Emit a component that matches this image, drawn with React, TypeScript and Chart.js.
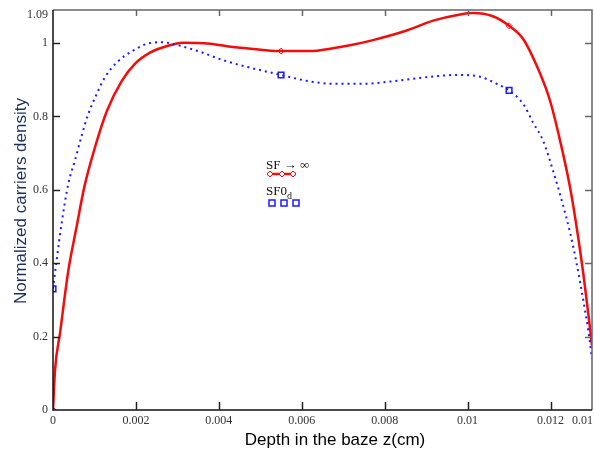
import React, { useEffect, useRef } from "react";
import { Chart, registerables } from "chart.js";

Chart.register(...registerables);

// ---- data ----
const redZ = [
  0, 0.00005, 0.00017, 0.00037, 0.00057, 0.00076, 0.00101, 0.0013, 0.00166, 0.00198,
  0.00234, 0.00275, 0.00314, 0.00379, 0.00434, 0.005, 0.0055, 0.0062, 0.00675, 0.00716,
  0.00772, 0.00853, 0.00917, 0.00982, 0.01013, 0.01061, 0.011, 0.01134, 0.01175, 0.01199,
  0.01223, 0.01247, 0.01263, 0.01279, 0.01291, 0.013,
];
const redValues = [
  0, 0.11, 0.21, 0.38, 0.5, 0.61, 0.715, 0.815, 0.897, 0.944,
  0.974, 0.992, 1.001, 0.998, 0.989, 0.982, 0.978, 0.978, 0.986, 0.994,
  1.008, 1.034, 1.061, 1.078, 1.082, 1.073, 1.047, 1.011, 0.916, 0.842,
  0.734, 0.607, 0.498, 0.372, 0.263, 0.175,
];
const blueZ = [
  0, 0.00009, 0.00021, 0.00037, 0.00053, 0.00069, 0.00085, 0.00105, 0.00125, 0.00154,
  0.00194, 0.00234, 0.00265, 0.00298, 0.00355, 0.00411, 0.00475, 0.0055, 0.00612, 0.00675,
  0.0075, 0.00813, 0.00893, 0.00974, 0.0103, 0.0107, 0.011, 0.01134, 0.01158, 0.01182,
  0.01206, 0.01227, 0.01247, 0.01263, 0.01279, 0.01291, 0.013,
];
const blueValues = [
  0.33, 0.41, 0.51, 0.617, 0.68, 0.747, 0.806, 0.86, 0.906, 0.947,
  0.98, 1.0, 1.002, 0.995, 0.976, 0.953, 0.933, 0.913, 0.897, 0.889,
  0.889, 0.895, 0.906, 0.913, 0.908, 0.889, 0.871, 0.834, 0.783, 0.734,
  0.652, 0.571, 0.484, 0.399, 0.299, 0.217, 0.14,
];
const markerZ = [0, 0.0055, 0.011];
const redMarkerValues = [0, 0.978, 1.047];
const blueMarkerValues = [0.33, 0.913, 0.871];

const xTicks = [0, 0.002, 0.004, 0.006, 0.008, 0.01, 0.012, 0.013];
const xTickLabels = ["0", "0.002", "0.004", "0.006", "0.008", "0.01", "0.012", "0.01"];
const yTicks = [0, 0.2, 0.4, 0.6, 0.8, 1, 1.09];
const yTickLabels = ["0", "0.2", "0.4", "0.6", "0.8", "1", "1.09"];

const xTitle = "Depth in the baze z(cm)";
const yTitle = "Normalized carriers density";
const legend1 = "SF \u2192 \u221E";
const legend2Main = "SF0";
const legend2Sub = "d";

const RED = "#f20d0d";
const BLUE = "#1a1aff";

const toPts = (xs: number[], ys: number[]) => xs.map((x, i) => ({ x, y: ys[i] }));

const decorPlugin = {
  id: "decor",
  afterDraw(chart: any) {
    const ctx = chart.ctx as CanvasRenderingContext2D;
    const { left, right, top, bottom } = chart.chartArea;
    const xs = chart.scales.x;
    const ys = chart.scales.y;
    ctx.save();

    // frame
    ctx.lineWidth = 1.5;
    ctx.strokeStyle = "#666";
    ctx.beginPath();
    ctx.moveTo(left, top);
    ctx.lineTo(right, top);
    ctx.lineTo(right, bottom);
    ctx.stroke();
    ctx.strokeStyle = "#111";
    ctx.beginPath();
    ctx.moveTo(left, top);
    ctx.lineTo(left, bottom);
    ctx.lineTo(right, bottom);
    ctx.stroke();

    // ticks
    ctx.lineWidth = 1.5;
    xTicks.forEach((v) => {
      const px = Math.round(xs.getPixelForValue(v)) + 0.5;
      if (px <= left + 1 || px >= right - 1) return;
      ctx.strokeStyle = "#222";
      ctx.beginPath();
      ctx.moveTo(px, bottom);
      ctx.lineTo(px, bottom - 8);
      ctx.stroke();
      ctx.strokeStyle = "#666";
      ctx.beginPath();
      ctx.moveTo(px, top);
      ctx.lineTo(px, top + 6);
      ctx.stroke();
    });
    yTicks.forEach((v) => {
      const py = Math.round(ys.getPixelForValue(v)) + 0.5;
      if (py <= top + 1 || py >= bottom - 1) return;
      ctx.strokeStyle = "#222";
      ctx.beginPath();
      ctx.moveTo(left, py);
      ctx.lineTo(left + 7, py);
      ctx.stroke();
      ctx.strokeStyle = "#666";
      ctx.beginPath();
      ctx.moveTo(right, py);
      ctx.lineTo(right - 7, py);
      ctx.stroke();
    });

    // tick labels
    ctx.fillStyle = "#333";
    ctx.font = "12px 'Liberation Serif', 'Times New Roman', serif";
    ctx.textBaseline = "middle";
    ctx.textAlign = "right";
    yTicks.forEach((v, i) => {
      let py = ys.getPixelForValue(v);
      if (py < 15) py = 15;
      ctx.fillText(yTickLabels[i], left - 5, py);
    });
    ctx.textAlign = "center";
    xTicks.forEach((v, i) => {
      let px = xs.getPixelForValue(v);
      const w = ctx.measureText(xTickLabels[i]).width;
      if (px + w / 2 > 593) px = 593 - w / 2;
      ctx.fillText(xTickLabels[i], px, bottom + 11);
    });

    // axis titles
    ctx.font = "17px 'Liberation Sans', Arial, sans-serif";
    ctx.fillStyle = "#000";
    ctx.textAlign = "center";
    ctx.textBaseline = "middle";
    ctx.fillText(xTitle, 335, 440);
    ctx.save();
    ctx.translate(21, 201);
    ctx.rotate(-Math.PI / 2);
    ctx.fillStyle = "#1c2e5c";
    ctx.fillText(yTitle, 0, 0);
    ctx.restore();

    // legend
    ctx.font = "13px 'Liberation Serif', 'Times New Roman', serif";
    ctx.fillStyle = "#111";
    ctx.textAlign = "left";
    ctx.textBaseline = "alphabetic";
    ctx.fillText(legend1, 266, 169);
    ctx.fillText(legend2Main, 266, 195);
    const mw = ctx.measureText(legend2Main).width;
    ctx.font = "10px 'Liberation Serif', 'Times New Roman', serif";
    ctx.fillText(legend2Sub, 266 + mw, 199);

    ctx.strokeStyle = RED;
    ctx.lineWidth = 2.5;
    ctx.beginPath();
    ctx.moveTo(267, 174);
    ctx.lineTo(296, 174);
    ctx.stroke();
    ctx.lineWidth = 1;
    [270, 282, 293].forEach((mx) => {
      ctx.beginPath();
      ctx.moveTo(mx, 171);
      ctx.lineTo(mx + 3, 174);
      ctx.lineTo(mx, 177);
      ctx.lineTo(mx - 3, 174);
      ctx.closePath();
      ctx.fillStyle = "#fff";
      ctx.fill();
      ctx.stroke();
    });
    ctx.strokeStyle = BLUE;
    ctx.lineWidth = 1.5;
    [272, 284, 296].forEach((mx) => {
      ctx.strokeRect(mx - 3, 200, 6, 6);
    });

    ctx.restore();
  },
};

export default function App() {
  const ref = useRef<HTMLCanvasElement | null>(null);

  useEffect(() => {
    document.body.style.margin = "0";
    const canvas = ref.current;
    if (!canvas) return;
    const chart = new Chart(canvas, {
      type: "scatter",
      data: {
        datasets: [
          {
            label: "SF0d",
            data: toPts(blueZ, blueValues),
            showLine: true,
            borderColor: BLUE,
            borderWidth: 2,
            borderDash: [2, 4],
            pointRadius: 0,
            cubicInterpolationMode: "monotone",
          },
          {
            label: "SF -> inf",
            data: toPts(redZ, redValues),
            showLine: true,
            borderColor: RED,
            borderWidth: 2.5,
            pointRadius: 0,
            cubicInterpolationMode: "monotone",
          },
          {
            label: "SF0d markers",
            data: toPts(markerZ, blueMarkerValues),
            showLine: false,
            pointStyle: "rect",
            pointRadius: 4,
            borderColor: BLUE,
            backgroundColor: "rgba(255,255,255,0)",
            borderWidth: 1.5,
          },
          {
            label: "SF markers",
            data: toPts(markerZ, redMarkerValues),
            showLine: false,
            pointStyle: "rectRot",
            pointRadius: 3,
            borderColor: RED,
            backgroundColor: "#fff",
            borderWidth: 1,
          },
        ],
      },
      options: {
        responsive: false,
        animation: false,
        devicePixelRatio: 1,
        layout: { autoPadding: false, padding: { left: 53, right: 2, top: 10, bottom: 43 } },
        plugins: { legend: { display: false }, tooltip: { enabled: false } },
        scales: {
          x: { type: "linear", min: 0, max: 0.013, display: false },
          y: { type: "linear", min: 0, max: 1.09, display: false },
        },
      },
      plugins: [decorPlugin],
    } as any);
    return () => chart.destroy();
  }, []);

  return (
    <div style={{ position: "absolute", left: 0, top: 0, width: 594, height: 453, background: "#fff" }}>
      <canvas ref={ref} width={594} height={453} />
    </div>
  );
}
